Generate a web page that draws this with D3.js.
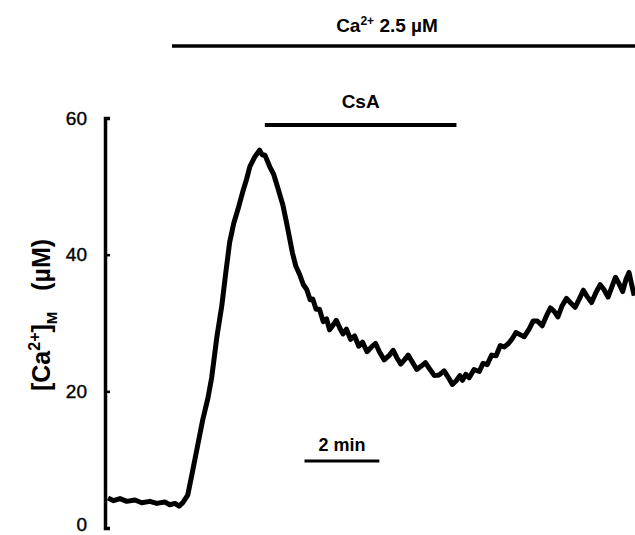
<!DOCTYPE html>
<html>
<head>
<meta charset="utf-8">
<script src="https://cdn.jsdelivr.net/npm/d3@7"></script>
<style>
  body { margin: 0; background: #fff; }
  svg { display: block; font-family: "Liberation Sans", Arial, sans-serif; }
</style>
</head>
<body>
<svg width="635" height="535"></svg>
<script>
// time in minutes from start of recording, [Ca2+]M in uM
var timeMin = [0, 0.15, 0.32, 0.5, 0.72, 0.9, 1.12, 1.3, 1.52, 1.65, 1.79, 1.9, 2.0, 2.13, 2.27, 2.4, 2.53, 2.67, 2.77,
  2.91, 3.04, 3.15, 3.25, 3.36, 3.47, 3.6, 3.7, 3.79, 3.92, 4.05, 4.12, 4.19, 4.32, 4.43, 4.53, 4.67, 4.77, 4.93,
  5.02, 5.12, 5.22, 5.31, 5.4, 5.47, 5.56, 5.65, 5.75, 5.84, 5.92, 6.0, 6.1, 6.19, 6.28, 6.37, 6.48, 6.59, 6.7,
  6.8, 6.92, 7.04, 7.15, 7.25, 7.38, 7.52, 7.62, 7.71, 7.82, 7.92, 8.02, 8.13, 8.25, 8.37, 8.48, 8.59, 8.72,
  8.85, 8.98, 9.12, 9.2, 9.31, 9.4, 9.47, 9.56, 9.65, 9.78, 9.92, 10.02, 10.13, 10.25, 10.37, 10.48, 10.59, 10.7,
  10.8, 10.9, 11.01, 11.12, 11.25, 11.36, 11.47, 11.6, 11.71, 11.82, 11.92, 12.02, 12.13, 12.25, 12.37, 12.48,
  12.59, 12.7, 12.8, 12.92, 13.04, 13.15, 13.25, 13.36, 13.47, 13.56, 13.65, 13.75, 13.84, 13.92, 14.0, 14.06];
var caM = [4.4, 4.0, 4.3, 3.9, 4.1, 3.7, 3.9, 3.6, 3.8, 3.4, 3.6, 3.2, 3.7, 4.8, 8.6, 12.2, 15.8, 19.0, 22.0,
  28.0, 32.5, 37.5, 41.8, 44.6, 46.6, 49.2, 51.0, 52.9, 54.3, 55.3, 54.6, 54.6, 52.9, 51.7, 49.9, 47.3, 44.7, 40.2,
  38.3, 37.1, 35.6, 34.9, 33.4, 33.5, 32.0, 32.0, 30.2, 30.6, 29.0, 29.6, 30.4, 29.3, 28.4, 29.1, 27.6, 28.1, 26.6,
  27.2, 25.8, 26.5, 27.0, 25.8, 24.6, 25.3, 26.0, 25.0, 24.0, 24.6, 25.3, 24.3, 23.2, 23.7, 24.2, 23.3, 22.3,
  22.4, 23.0, 21.8, 21.0, 21.6, 22.3, 21.6, 22.5, 22.0, 23.2, 22.9, 24.1, 23.9, 25.3, 25.2, 26.7, 26.5, 27.0,
  27.7, 28.6, 28.3, 28.0, 29.1, 30.3, 30.3, 29.6, 31.0, 32.2, 31.7, 30.9, 32.5, 33.6, 32.9, 32.3, 33.5, 34.8,
  33.9, 33.0, 34.5, 35.6, 34.9, 33.8, 35.4, 36.7, 35.8, 34.6, 36.4, 37.4, 35.4, 34.0];

var yTicks = [0, 20, 40, 60];
var caBar = [1.71, 14.2];    // Ca2+ 2.5 uM application
var csaBar = [4.19, 9.31];   // CsA application
var scaleBar = [5.25, 7.25]; // 2 min calibration

var svg = d3.select("svg");

var x = d3.scaleLinear().domain([0, 14.08]).range([108, 635]);
var y = d3.scaleLinear().domain([0, 60]).range([528, 118]);

// y axis: thick line with short inward ticks
var yAxis = d3.axisRight(y).tickValues(yTicks).tickSize(5).tickFormat("");
var ax = svg.append("g").attr("transform", "translate(105,0)").call(yAxis);
ax.select(".domain").attr("stroke", "#000").attr("stroke-width", 3.5);
ax.selectAll(".tick line").attr("stroke", "#000").attr("stroke-width", 2.5);

svg.selectAll(".ylab")
  .data(yTicks)
  .enter()
  .append("text")
  .attr("class", "ylab")
  .attr("x", 87)
  .attr("y", function(d) { return y(d) - (d === 0 ? 4 : 0); })
  .attr("dy", "0.35em")
  .attr("text-anchor", "end")
  .attr("font-size", 19)
  .attr("stroke", "#000")
  .attr("stroke-width", 0.4)
  .text(function(d) { return d; });

// axis title
var yt = svg.append("text")
  .attr("transform", "translate(50,315) rotate(-90)")
  .attr("text-anchor", "middle")
  .attr("font-size", 25)
  .attr("font-weight", "bold");
yt.append("tspan").text("[Ca");
yt.append("tspan").attr("font-size", 16).attr("dy", -10).text("2+");
yt.append("tspan").attr("dy", 10).text("]");
yt.append("tspan").attr("font-size", 15).attr("dy", 7).text("M");
yt.append("tspan").attr("dy", -7).text("\u00a0\u00a0 (\u00b5M)");

// trace
var line = d3.line()
  .x(function(d) { return x(d[0]); })
  .y(function(d) { return y(d[1]); });
svg.append("path")
  .datum(d3.zip(timeMin, caM))
  .attr("fill", "none")
  .attr("stroke", "#000")
  .attr("stroke-width", 5)
  .attr("stroke-linejoin", "round")
  .attr("d", line);

// application bars
svg.append("line")
  .attr("x1", x(caBar[0])).attr("x2", x(caBar[1]))
  .attr("y1", 46).attr("y2", 46)
  .attr("stroke", "#000").attr("stroke-width", 3.5);
var ct = svg.append("text")
  .attr("x", 387).attr("y", 32)
  .attr("text-anchor", "middle")
  .attr("font-size", 19)
  .attr("font-weight", "bold");
ct.append("tspan").text("Ca");
ct.append("tspan").attr("font-size", 12).attr("dy", -7).text("2+");
ct.append("tspan").attr("dy", 7).text(" 2.5 \u00b5M");

svg.append("line")
  .attr("x1", x(csaBar[0])).attr("x2", x(csaBar[1]))
  .attr("y1", 125).attr("y2", 125)
  .attr("stroke", "#000").attr("stroke-width", 4);
svg.append("text")
  .attr("x", x((csaBar[0] + csaBar[1]) / 2)).attr("y", 108)
  .attr("text-anchor", "middle")
  .attr("font-size", 19)
  .attr("font-weight", "bold")
  .text("CsA");

// time calibration
svg.append("line")
  .attr("x1", x(scaleBar[0])).attr("x2", x(scaleBar[1]))
  .attr("y1", 461).attr("y2", 461)
  .attr("stroke", "#000").attr("stroke-width", 3);
svg.append("text")
  .attr("x", x((scaleBar[0] + scaleBar[1]) / 2)).attr("y", 451)
  .attr("text-anchor", "middle")
  .attr("font-size", 18)
  .attr("font-weight", "bold")
  .text("2 min");
</script>
</body>
</html>
